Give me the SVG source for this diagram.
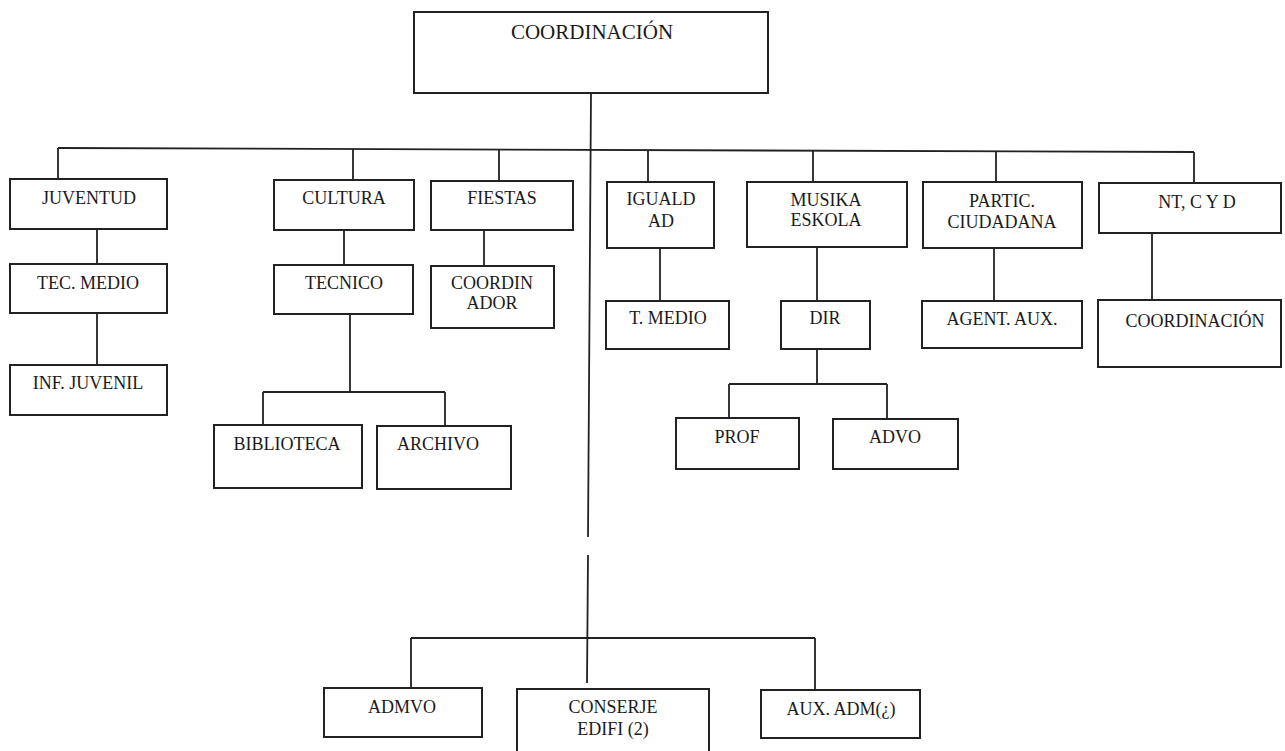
<svg xmlns="http://www.w3.org/2000/svg" width="1285" height="751" viewBox="0 0 1285 751">
<style>
  .box { fill: #ffffff; stroke: #222; stroke-width: 2; }
  .ln { fill: none; stroke: #222; stroke-width: 1.8; }
  text { font-family: "Liberation Serif", "Times New Roman", serif; font-size: 18px; fill: #1a1a1a; text-anchor: middle; }
  .big { font-size: 21px; }
</style>
<rect width="1285" height="751" fill="#ffffff"/>
<g id="connectors">
  <path class="ln" d="M591 93 L588 537 M588 555 L587 683"/>
  <path class="ln" d="M58 148 L1194 152"/>
  <path class="ln" d="M58 148 V179 M353 149 V180 M499 149 V181 M648 150 V182 M813 150 V182 M996 151 V182 M1194 152 V183"/>
  <path class="ln" d="M97 229 V264 M97 313 V365"/>
  <path class="ln" d="M344 230 V265 M350 314 V392 M263 392 H445 M263 392 V425 M445 392 V426"/>
  <path class="ln" d="M484 230 V266"/>
  <path class="ln" d="M660 248 V301"/>
  <path class="ln" d="M817 247 V301 M817 349 V384 M729 384 H887 M729 384 V418 M887 384 V419"/>
  <path class="ln" d="M994 248 V301"/>
  <path class="ln" d="M1152 233 V300"/>
  <path class="ln" d="M411 638 H815 M411 638 V688 M815 638 V690"/>
</g>
<g id="coordinacion"><rect class="box" x="414" y="12" width="354" height="81"/><text class="big" x="592" y="39">COORDINACIÓN</text></g>
<g id="juventud"><rect class="box" x="10" y="179" width="157" height="50"/><text x="89" y="204">JUVENTUD</text></g>
<g id="tec-medio"><rect class="box" x="10" y="264" width="157" height="49"/><text x="88" y="289">TEC. MEDIO</text></g>
<g id="inf-juvenil"><rect class="box" x="10" y="365" width="157" height="50"/><text x="88" y="389">INF. JUVENIL</text></g>
<g id="cultura"><rect class="box" x="274" y="180" width="140" height="50"/><text x="344" y="204">CULTURA</text></g>
<g id="tecnico"><rect class="box" x="274" y="265" width="139" height="49"/><text x="344" y="289">TECNICO</text></g>
<g id="biblioteca"><rect class="box" x="214" y="425" width="148" height="63"/><text x="287" y="450">BIBLIOTECA</text></g>
<g id="archivo"><rect class="box" x="377" y="426" width="134" height="63"/><text x="438" y="450">ARCHIVO</text></g>
<g id="fiestas"><rect class="box" x="431" y="181" width="142" height="49"/><text x="502" y="204">FIESTAS</text></g>
<g id="coordinador"><rect class="box" x="431" y="266" width="123" height="62"/><text x="492" y="289">COORDIN</text><text x="492" y="309">ADOR</text></g>
<g id="igualdad"><rect class="box" x="607" y="182" width="107" height="66"/><text x="661" y="205">IGUALD</text><text x="661" y="227">AD</text></g>
<g id="t-medio"><rect class="box" x="606" y="301" width="123" height="48"/><text x="668" y="324">T. MEDIO</text></g>
<g id="musika-eskola"><rect class="box" x="747" y="182" width="160" height="65"/><text x="826" y="206">MUSIKA</text><text x="826" y="226">ESKOLA</text></g>
<g id="dir"><rect class="box" x="781" y="301" width="89" height="48"/><text x="825" y="324">DIR</text></g>
<g id="prof"><rect class="box" x="676" y="418" width="123" height="51"/><text x="737" y="443">PROF</text></g>
<g id="advo"><rect class="box" x="833" y="419" width="125" height="50"/><text x="895" y="443">ADVO</text></g>
<g id="partic"><rect class="box" x="923" y="182" width="159" height="66"/><text x="1002" y="207">PARTIC.</text><text x="1002" y="228">CIUDADANA</text></g>
<g id="agent-aux"><rect class="box" x="922" y="301" width="160" height="47"/><text x="1002" y="325">AGENT. AUX.</text></g>
<g id="nt-cyd"><rect class="box" x="1099" y="183" width="182" height="50"/><text x="1197" y="208">NT, C Y D</text></g>
<g id="coordinacion-2"><rect class="box" x="1098" y="300" width="183" height="67"/><text x="1195" y="327">COORDINACIÓN</text></g>
<g id="admvo"><rect class="box" x="324" y="688" width="158" height="49"/><text x="402" y="713">ADMVO</text></g>
<g id="conserje"><rect class="box" x="517" y="689" width="192" height="70"/><text x="613" y="713">CONSERJE</text><text x="613" y="735">EDIFI (2)</text></g>
<g id="aux-adm"><rect class="box" x="761" y="690" width="159" height="48"/><text x="841" y="715">AUX. ADM(¿)</text></g>
</svg>
